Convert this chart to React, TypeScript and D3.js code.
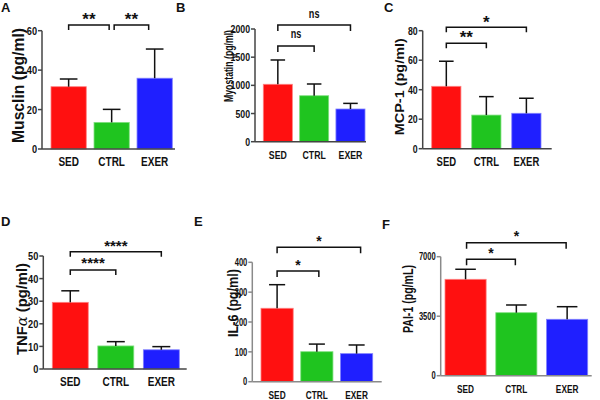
import React from "react";
import * as d3 from "d3";

// ---------- DATA ----------
const categories = ["SED", "CTRL", "EXER"];

const musclinMean = [31.6, 13.5, 35.9];
const musclinErr = [3.9, 6.6, 14.8];
const musclinTicks = [0, 20, 40, 60];

const myostatinMean = [1019, 816, 580];
const myostatinErr = [431, 208, 100];
const myostatinTicks = [0, 500, 1000, 1500, 2000];

const mcpMean = [42.3, 22.8, 24];
const mcpErr = [17, 12.5, 10.2];
const mcpTicks = [0, 20, 40, 60, 80];

const tnfMean = [29.5, 10.2, 8.5];
const tnfErr = [5.1, 1.9, 1.4];
const tnfTicks = [0, 10, 20, 30, 40, 50];

const il6Mean = [246, 100.5, 94];
const il6Err = [79, 25.5, 29];
const il6Ticks = [0, 100, 200, 300, 400];

const paiMean = [5670, 3706, 3318];
const paiErr = [590, 453, 741];
const paiTicks = [0, 3500, 7000];

const panelLetters = ["A", "B", "C", "D", "E", "F"];
const yLabels = ["Musclin (pg/ml)", "Myostatin (pg/ml)", "MCP-1 (pg/ml)", "TNF", "IL-6 (pg/ml)", "PAI-1 (pg/mL)"];

// comparisons: [fromIndex, toIndex, label]
const musclinSig: [number, number, string][] = [[0, 1, "**"], [1, 2, "**"]];
const myostatinSig: [number, number, string][] = [[0, 1, "ns"], [0, 2, "ns"]];
const mcpSig: [number, number, string][] = [[0, 1, "**"], [0, 2, "*"]];
const tnfSig: [number, number, string][] = [[0, 1, "****"], [0, 2, "****"]];
const il6Sig: [number, number, string][] = [[0, 1, "*"], [0, 2, "*"]];
const paiSig: [number, number, string][] = [[0, 1, "*"], [0, 2, "*"]];

const barColors = ["#ff1010", "#1fc41f", "#1f1fff"];
const barEdges = ["#ff8080", "#80e080", "#8080ff"];

// ---------- LAYOUT ----------
type Layout = {
  axisX: number; y0: number; yTop: number; xEnd: number;
  barStart: number; barEnd: number; padInner: number;
  axisColor: string;
  xFont: number; yFont: number; sx: number;
  labelCx: number; labelCy: number; labelLen: number; labelFont: number;
  letterX: number; letterY: number;
  brY: number[]; brDrop: number; brLabelD: number[]; brFont: number;
  brInset: [number, number][];
};

const layouts: Layout[] = [
  { axisX: 42, y0: 149, yTop: 30.7, xEnd: 175, barStart: 51, barEnd: 172.3, padInner: 0.18, axisColor: "#444",
    xFont: 12.5, yFont: 11.5, sx: 0.8, labelCx: 18.5, labelCy: 85.5, labelLen: 115, labelFont: 16,
    letterX: 1, letterY: 12, brY: [25, 25], brDrop: 5, brLabelD: [10, 10], brFont: 17, brInset: [[0, 2.5], [2.5, 6]] },
  { axisX: 255, y0: 141.7, yTop: 29, xEnd: 366, barStart: 263.3, barEnd: 365, padInner: 0.2, axisColor: "#444",
    xFont: 11.5, yFont: 11.5, sx: 0.76, labelCx: 229, labelCy: 66, labelLen: 72, labelFont: 12.5,
    letterX: 176, letterY: 12, brY: [46, 25], brDrop: 6, brLabelD: [11, 10], brFont: 12, brInset: [[0, 0], [0, 0]] },
  { axisX: 422.7, y0: 148.7, yTop: 30.7, xEnd: 551.7, barStart: 431.7, barEnd: 541, padInner: 0.27, axisColor: "#444",
    xFont: 12.5, yFont: 11.5, sx: 0.76, labelCx: 399, labelCy: 86.7, labelLen: 97, labelFont: 13.5,
    letterX: 384, letterY: 12, brY: [43.3, 27.3], brDrop: 5, brLabelD: [10, 9], brFont: 17, brInset: [[0, 0], [0, 0]] },
  { axisX: 43.3, y0: 369, yTop: 256, xEnd: 186.7, barStart: 52.3, barEnd: 179.3, padInner: 0.21, axisColor: "#444",
    xFont: 12.5, yFont: 11.5, sx: 0.8, labelCx: 21.5, labelCy: 309, labelLen: 92, labelFont: 14.5,
    letterX: 1, letterY: 226, brY: [270, 251.7], brDrop: 5, brLabelD: [10, 9], brFont: 15, brInset: [[0, 0], [0, 0]] },
  { axisX: 252.3, y0: 381.7, yTop: 262.3, xEnd: 381.7, barStart: 261, barEnd: 372.7, padInner: 0.19, axisColor: "#8a8a8a",
    xFont: 11.5, yFont: 10.5, sx: 0.72, labelCx: 232, labelCy: 303, labelLen: 68, labelFont: 15.5,
    letterX: 194, letterY: 226, brY: [271, 247.3], brDrop: 6, brLabelD: [9.3, 9], brFont: 14, brInset: [[0, -2], [0, -4]] },
  { axisX: 440.7, y0: 375.7, yTop: 256.7, xEnd: 591.7, barStart: 445, barEnd: 587.7, padInner: 0.19, axisColor: "#8a8a8a",
    xFont: 11.5, yFont: 10.5, sx: 0.72, labelCx: 408, labelCy: 299, labelLen: 68, labelFont: 14.5,
    letterX: 382, letterY: 229, brY: [259.3, 242.7], brDrop: 6, brLabelD: [9.3, 10], brFont: 14, brInset: [[1, 1], [1, 1]] },
];

const means = [musclinMean, myostatinMean, mcpMean, tnfMean, il6Mean, paiMean];
const errs = [musclinErr, myostatinErr, mcpErr, tnfErr, il6Err, paiErr];
const ticksAll = [musclinTicks, myostatinTicks, mcpTicks, tnfTicks, il6Ticks, paiTicks];
const sigs = [musclinSig, myostatinSig, mcpSig, tnfSig, il6Sig, paiSig];

const FONT = "'Liberation Sans', Arial, sans-serif";

function Panel({ i }: { i: number }) {
  const L = layouts[i];
  const mean = means[i];
  const err = errs[i];
  const ticks = ticksAll[i];
  const yMax = ticks[ticks.length - 1];
  const y = d3.scaleLinear().domain([0, yMax]).range([L.y0, L.yTop]);
  const x = d3.scaleBand<string>().domain(categories).range([L.barStart, L.barEnd]).paddingInner(L.padInner).paddingOuter(0);
  const bw = x.bandwidth();
  const cx = (k: number) => (x(categories[k]) as number) + bw / 2;

  const label = yLabels[i];
  return (
    <g>
      {categories.map((c, k) => (
        <rect key={c} x={x(c)} y={y(mean[k])} width={bw} height={L.y0 - y(mean[k])}
          fill={barColors[k]} stroke={barEdges[k]} strokeWidth={0.8} />
      ))}
      {categories.map((c, k) => (
        <g key={"e" + c} stroke="#111" strokeWidth={1.5}>
          <line x1={cx(k)} x2={cx(k)} y1={y(mean[k])} y2={y(mean[k] + err[k])} />
          <line x1={cx(k) - bw / 4} x2={cx(k) + bw / 4} y1={y(mean[k] + err[k])} y2={y(mean[k] + err[k])} />
        </g>
      ))}
      <line x1={L.axisX} x2={L.axisX} y1={L.yTop} y2={L.y0} stroke={L.axisColor} strokeWidth={1.5} />
      <line x1={L.axisX} x2={L.xEnd} y1={L.y0} y2={L.y0} stroke={L.axisColor} strokeWidth={1.5} />
      {ticks.map((t) => (
        <g key={"t" + t}>
          <line x1={L.axisX - 4} x2={L.axisX} y1={y(t)} y2={y(t)} stroke={L.axisColor} strokeWidth={1.5} />
          <text transform={`translate(${L.axisX - 5},${y(t) + L.yFont * 0.36}) scale(${L.sx},1)`}
            textAnchor="end" fontSize={L.yFont} fontWeight="bold" fontFamily={FONT} fill="#111">{t}</text>
        </g>
      ))}
      {categories.map((c, k) => (
        <text key={"x" + c} transform={`translate(${cx(k)},${L.y0 + 17}) scale(${L.sx},1)`}
          textAnchor="middle" fontSize={L.xFont} fontWeight="bold" fontFamily={FONT} fill="#111">{c}</text>
      ))}
      <text transform={`translate(${L.labelCx},${L.labelCy}) rotate(-90)`} textAnchor="middle"
        dominantBaseline="central" fontSize={L.labelFont} fontWeight="bold" fontFamily={FONT} fill="#111"
        textLength={L.labelLen} lengthAdjust="spacingAndGlyphs">
        {i === 3 ? (
          <>
            {label}
            <tspan fontFamily="'DejaVu Serif', serif" fontStyle="italic" fontWeight="normal">α</tspan>
            {" (pg/ml)"}
          </>
        ) : label}
      </text>
      <text x={L.letterX} y={L.letterY} fontSize={13} fontWeight="bold" fontFamily={FONT} fill="#111">{panelLetters[i]}</text>
      {sigs[i].map(([a, b, s], j) => {
        const x1 = cx(a) + L.brInset[j][0];
        const x2 = cx(b) - L.brInset[j][1];
        const by = L.brY[j];
        const isStar = s.includes("*");
        const fs = L.brFont;
        const base = isStar ? by - L.brLabelD[j] + 0.56 * fs : by - L.brLabelD[j] + 0.27 * fs;
        return (
          <g key={"s" + j}>
            <path d={`M${x1},${by + L.brDrop}V${by}H${x2}V${by + L.brDrop}`} fill="none" stroke="#111" strokeWidth={1.5} />
            <text transform={`translate(${(x1 + x2) / 2},${base}) scale(${isStar ? 1 : L.sx},1)`} textAnchor="middle"
              fontSize={fs} fontWeight="bold" fontFamily={FONT} fill="#111">{s}</text>
          </g>
        );
      })}
    </g>
  );
}

export default function App() {
  return (
    <svg width={600} height={400} style={{ position: "absolute", left: 0, top: 0, background: "#fff" }}>
      <rect width={600} height={400} fill="#fff" />
      {layouts.map((_, i) => (
        <Panel key={i} i={i} />
      ))}
    </svg>
  );
}
